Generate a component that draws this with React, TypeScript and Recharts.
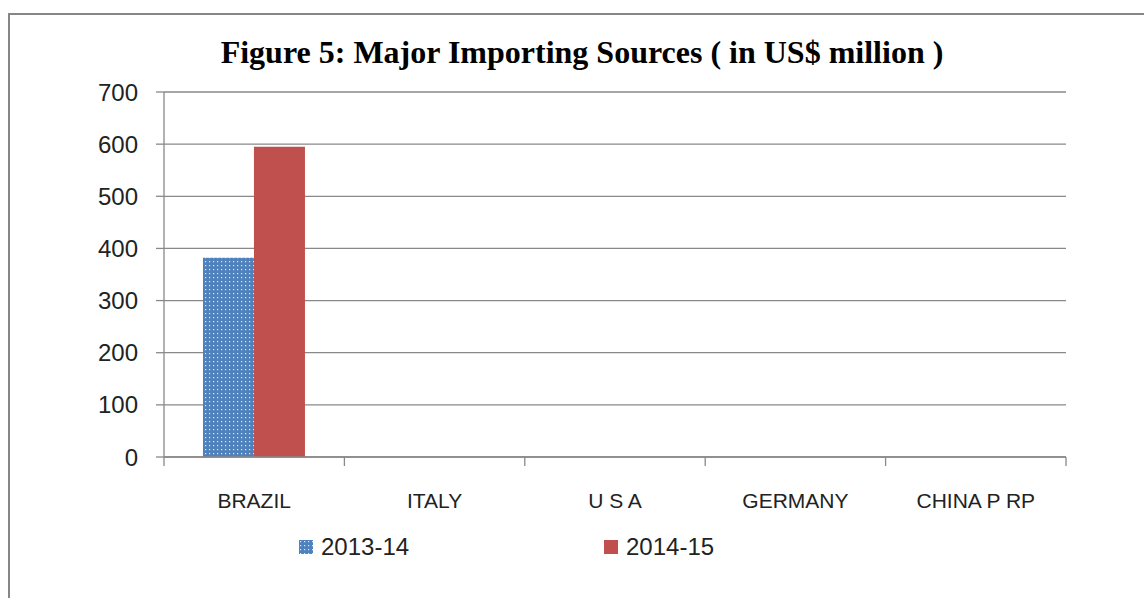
import React from "react";
import { BarChart, Bar, XAxis, YAxis, CartesianGrid } from "recharts";

const categories = ["BRAZIL", "ITALY", "U S A", "GERMANY", "CHINA P RP"];
const series2013 = [382, 0, 0, 0, 0];
const series2014 = [595, 0, 0, 0, 0];
const yTicks = [0, 100, 200, 300, 400, 500, 600, 700];
const seriesNames = ["2013-14", "2014-15"];

const data = categories.map((c, i) => ({
  name: c,
  idx: i,
  a: series2013[i],
  b: series2014[i],
}));

// category boundaries (between adjacent categories, plus both ends)
const boundaryTicks = [-0.5, ...categories.map((_, i) => i + 0.5)];

const GRID = "#898989";
const BLUE = "#4F81BD";
const RED = "#C0504D";
const SANS = "'Liberation Sans', Arial, sans-serif";

const EmptyTick = () => <g />;

const LegendBlock = () => (
  <div
    style={{
      position: "absolute",
      left: 0,
      top: 533,
      width: 1144,
      display: "flex",
      paddingLeft: 299,
      fontFamily: SANS,
      fontSize: 24,
      color: "#222",
    }}
  >
    {[
      { name: seriesNames[0], fill: "url(#dotsLegend)" },
      { name: seriesNames[1], fill: RED },
    ].map((it) => (
      <div key={it.name} style={{ width: 305, display: "flex", alignItems: "center" }}>
        <svg width={14} height={14} style={{ marginRight: 8 }}>
          <defs>
            <pattern id="dotsLegend" width={4} height={4} patternUnits="userSpaceOnUse">
              <rect x={0} y={0} width={4} height={4} fill={BLUE} />
              <rect x={1} y={1} width={1.2} height={1.2} fill="#dfe8f4" />
            </pattern>
          </defs>
          <rect x={0} y={0} width={14} height={14} fill={it.fill} />
        </svg>
        <span>{it.name}</span>
      </div>
    ))}
  </div>
);

export default function App() {
  return (
    <div style={{ position: "absolute", left: 0, top: 0, width: 1144, height: 598, overflow: "hidden", background: "#fff" }}>
      <div
        style={{
          position: "absolute",
          left: 8,
          top: 13,
          width: 1300,
          height: 800,
          borderLeft: "2px solid #868686",
          borderTop: "2px solid #868686",
        }}
      />
      <div
        style={{
          position: "absolute",
          left: 0,
          top: 32,
          width: 1164,
          textAlign: "center",
          fontFamily: "'Liberation Serif', 'Times New Roman', serif",
          fontWeight: "bold",
          fontSize: 32,
          color: "#000",
          lineHeight: "40px",
          whiteSpace: "nowrap",
        }}
      >
        Figure 5: Major Importing Sources ( in US$ million )
      </div>
      <div style={{ position: "absolute", left: 0, top: 0 }}>
        <BarChart
          width={1144}
          height={598}
          data={data}
          margin={{ top: 92, right: 78, bottom: 0, left: 0 }}
          barCategoryGap="21.6%"
          barGap={0}
        >
          <defs>
            <pattern id="dots" width={4} height={4} patternUnits="userSpaceOnUse">
              <rect x={0} y={0} width={4} height={4} fill={BLUE} />
              <rect x={1} y={1} width={1.2} height={1.2} fill="#dfe8f4" />
            </pattern>
          </defs>
          <CartesianGrid vertical={false} stroke={GRID} strokeWidth={1.3} xAxisId="b" />
          <XAxis
            xAxisId="a"
            dataKey="idx"
            type="number"
            domain={[-0.5, categories.length - 0.5]}
            ticks={boundaryTicks}
            interval={0}
            tick={EmptyTick}
            tickLine={{ stroke: GRID, strokeWidth: 1.3 }}
            tickSize={9}
            height={10}
            stroke={GRID}
            strokeWidth={1.3}
            allowDataOverflow
          />
          <XAxis
            xAxisId="b"
            dataKey="name"
            type="category"
            axisLine={false}
            tickLine={false}
            tickSize={0}
            tickMargin={26}
            height={131}
            tick={{ fontFamily: SANS, fontSize: 21, fill: "#222" }}
          />
          <YAxis
            width={164}
            domain={[0, 700]}
            ticks={yTicks}
            tickSize={8}
            tickMargin={18}
            stroke={GRID}
            strokeWidth={1.3}
            tick={{ fontFamily: SANS, fontSize: 24, fill: "#222" }}
          />
          <Bar xAxisId="b" dataKey="a" name={seriesNames[0]} fill="url(#dots)" isAnimationActive={false} />
          <Bar xAxisId="b" dataKey="b" name={seriesNames[1]} fill={RED} isAnimationActive={false} />
        </BarChart>
      </div>
      <LegendBlock />
    </div>
  );
}
